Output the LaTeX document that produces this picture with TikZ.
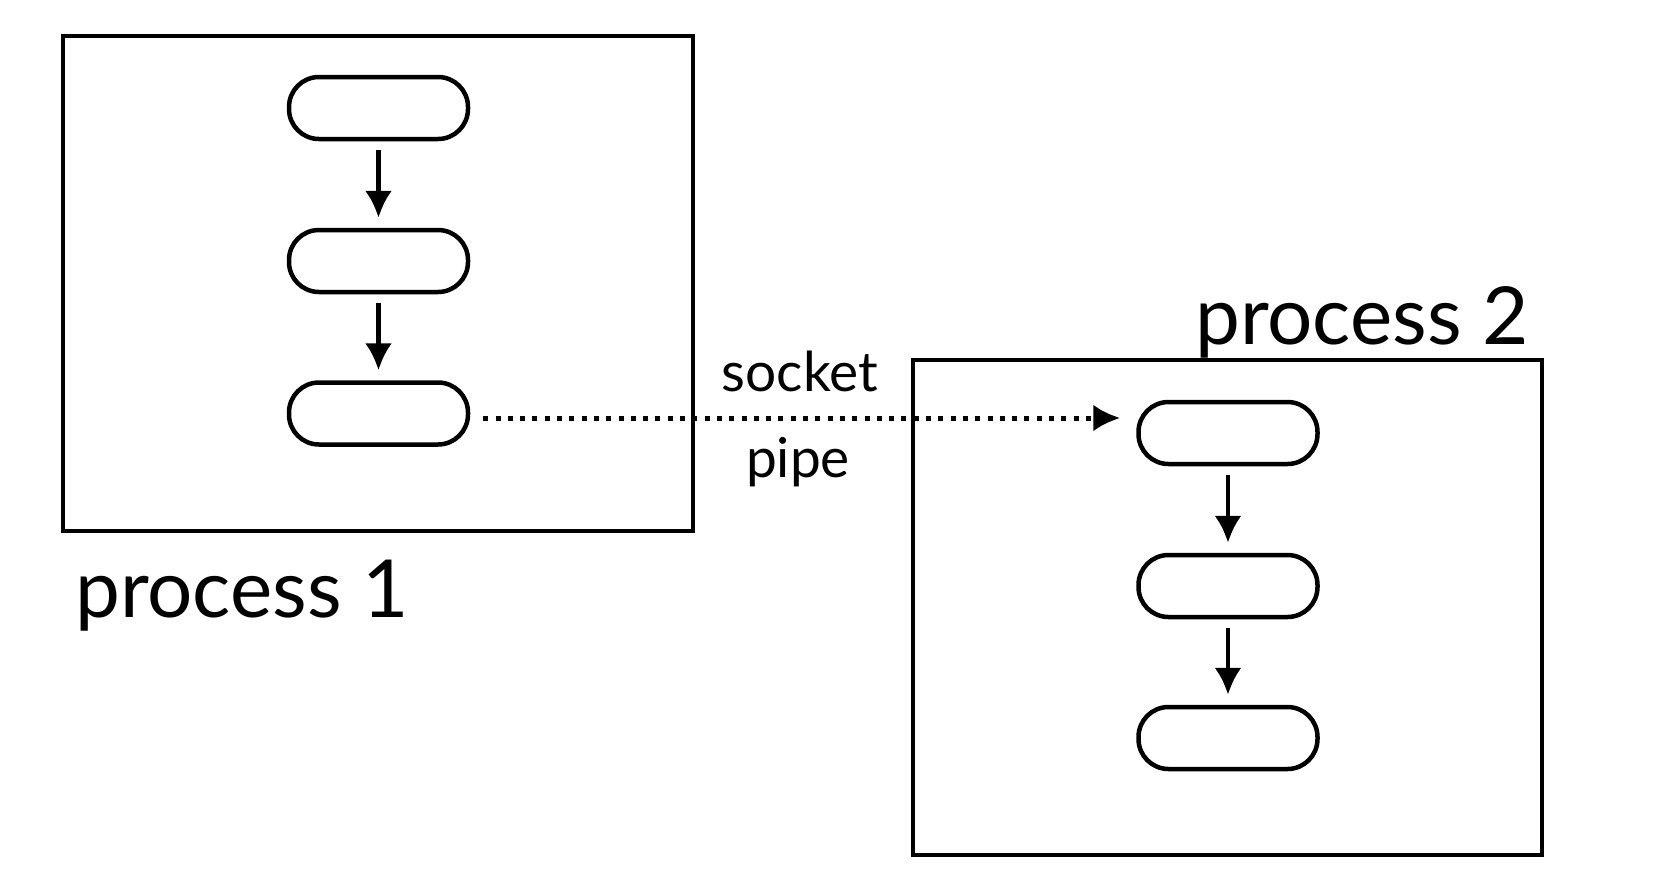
\documentclass[tikz,border=0pt]{standalone}
\usepackage{fontspec}
\setmainfont{Lato}
\usetikzlibrary{arrows.meta}
\begin{document}
\begin{tikzpicture}[x=1pt,y=-1pt,
  procbox/.style={draw, line width=4.5pt},
  stepbox/.style={draw, line width=4.5pt, rounded corners=30pt, minimum width=179pt, minimum height=62pt, inner sep=0pt},
  flow/.style={line width=4.5pt, -{Latex[length=27pt,width=27pt]}},
  ipc/.style={line width=5pt, dash pattern=on 5pt off 7.3pt, -{Latex[length=27pt,width=27pt]}},
  biglabel/.style={font=\fontsize{80}{86}\selectfont, inner sep=0pt, anchor=base west},
  smalllabel/.style={font=\fontsize{55}{60}\selectfont, inner sep=0pt}]
\useasboundingbox (0,0) rectangle (1676,884);
\draw[procbox] (63,36) rectangle (693,531);
\draw[procbox] (913,360) rectangle (1542,855);
\node[stepbox] (a1) at (378.5,108) {};
\node[stepbox] (a2) at (378.5,261) {};
\node[stepbox] (a3) at (378.5,413.5) {};
\node[stepbox] (b1) at (1228,433) {};
\node[stepbox] (b2) at (1228,586) {};
\node[stepbox] (b3) at (1228,738) {};
\draw[flow] ([yshift=-9pt]a1.south) -- ([yshift=10pt]a2.north);
\draw[flow] ([yshift=-9pt]a2.south) -- ([yshift=10pt]a3.north);
\draw[flow] ([yshift=-9pt]b1.south) -- ([yshift=10pt]b2.north);
\draw[flow] ([yshift=-9pt]b2.south) -- ([yshift=10pt]b3.north);
\coordinate (s) at ([xshift=13pt]a3.east |- 0,418);
\coordinate (t) at ([xshift=-16pt]b1.west |- 0,418);
\draw[ipc] (s) -- (t);
\node[smalllabel] (lsock) at (800,371) {socket};
\node[smalllabel] (lpipe) at (798,462) {pipe};
\node[biglabel] (lp1) at (75,617) {process 1};
\node[biglabel] (lp2) at (1195,344) {process 2};
\end{tikzpicture}
\end{document}
